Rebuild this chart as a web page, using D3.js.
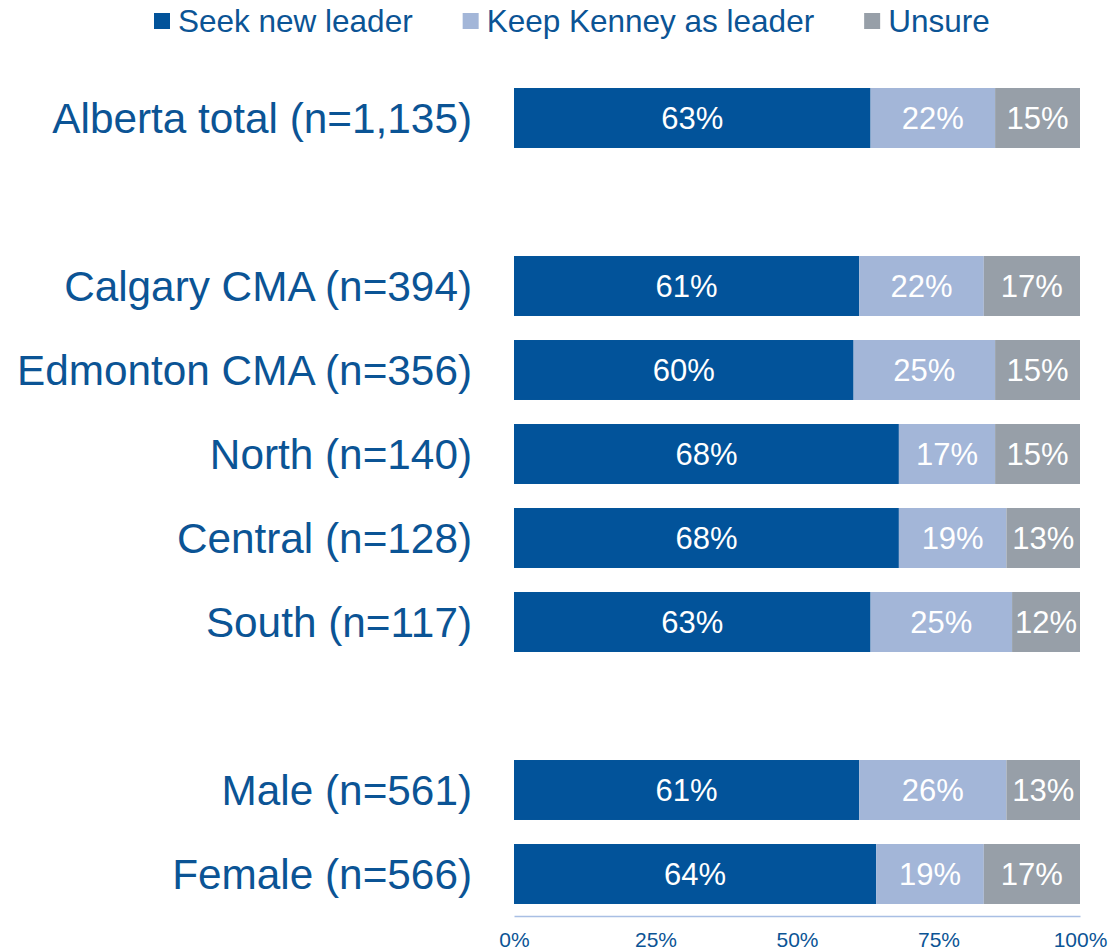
<!DOCTYPE html>
<html>
<head>
<meta charset="utf-8">
<script src="https://cdn.jsdelivr.net/npm/d3@7"></script>
<style>
  body { margin: 0; background: #fff; }
  text { font-family: "Liberation Sans", Arial, sans-serif; }
</style>
</head>
<body>
<div id="chart"></div>
<script>
// rows of the chart, empty strings are the gaps between groups
const categories = ["Alberta total (n=1,135)", "", "Calgary CMA (n=394)", "Edmonton CMA (n=356)",
  "North (n=140)", "Central (n=128)", "South (n=117)", "", "Male (n=561)", "Female (n=566)"];
const seekNew = [63, null, 61, 60, 68, 68, 63, null, 61, 64];
const keepKenney = [22, null, 22, 25, 17, 19, 25, null, 26, 19];
const unsure = [15, null, 17, 15, 15, 13, 12, null, 13, 17];
const seriesNames = ["Seek new leader", "Keep Kenney as leader", "Unsure"];
const tickValues = [0, 25, 50, 75, 100];

const colours = ["#02539a", "#a3b6d8", "#979fa8"];
const textColour = "#0b5495";

const width = 1109, height = 950;
const margin = {top: 76, right: 29, bottom: 34, left: 514};

const svg = d3.select("#chart")
  .append("svg")
  .attr("width", width)
  .attr("height", height);

const x = d3.scaleLinear()
  .domain([0, 100])
  .range([margin.left, width - margin.right]);

const y = d3.scaleBand()
  .domain(d3.range(categories.length))
  .range([margin.top, height - margin.bottom])
  .paddingInner(0.286)
  .paddingOuter(0.143);

const stacked = [];
categories.forEach(function(c, i) {
  if (c === "") return;
  const vals = [seekNew[i], keepKenney[i], unsure[i]];
  let start = 0;
  vals.forEach(function(v, k) {
    stacked.push({row: i, series: k, x0: start, x1: start + v, value: v});
    start += v;
  });
});

// bars
svg.append("g")
  .selectAll("rect")
  .data(stacked)
  .join("rect")
  .attr("x", function(d) { return x(d.x0); })
  .attr("y", function(d) { return y(d.row); })
  .attr("width", function(d) { return x(d.x1) - x(d.x0); })
  .attr("height", y.bandwidth())
  .attr("fill", function(d) { return colours[d.series]; });

// value labels
svg.append("g")
  .selectAll("text")
  .data(stacked)
  .join("text")
  .attr("x", function(d) { return (x(d.x0) + x(d.x1)) / 2; })
  .attr("y", function(d) { return y(d.row) + y.bandwidth() / 2; })
  .attr("dy", "0.36em")
  .attr("text-anchor", "middle")
  .attr("fill", "#fff")
  .style("font-size", "31px")
  .text(function(d) { return d.value + "%"; });

// category labels
svg.append("g")
  .selectAll("text")
  .data(categories.map(function(c, i) { return {name: c, i: i}; }).filter(function(d) { return d.name !== ""; }))
  .join("text")
  .attr("x", margin.left - 42)
  .attr("y", function(d) { return y(d.i) + y.bandwidth() / 2; })
  .attr("dy", "0.36em")
  .attr("text-anchor", "end")
  .attr("fill", textColour)
  .style("font-size", "42.3px")
  .text(function(d) { return d.name; });

// x axis
const xAxis = svg.append("g")
  .attr("transform", `translate(0, ${height - margin.bottom})`)
  .call(d3.axisBottom(x).tickValues(tickValues).tickSize(0).tickPadding(16).tickFormat(function(d) { return d + "%"; }));

xAxis.select(".domain").attr("stroke", "#a9bfe4").attr("stroke-width", 1.5);
xAxis.selectAll("text")
  .attr("fill", textColour)
  .style("font-size", "21px")
  .style("font-family", "'Liberation Sans', Arial, sans-serif");

// legend
const legend = svg.append("g");
let lx = 154;
seriesNames.forEach(function(name, k) {
  legend.append("rect")
    .attr("x", lx)
    .attr("y", 13)
    .attr("width", 16)
    .attr("height", 16)
    .attr("fill", colours[k]);
  const t = legend.append("text")
    .attr("x", lx + 24)
    .attr("y", 21)
    .attr("dy", "0.36em")
    .attr("fill", textColour)
    .style("font-size", "31.5px")
    .text(name);
  lx = lx + 24 + t.node().getComputedTextLength() + 50;
});
</script>
</body>
</html>
